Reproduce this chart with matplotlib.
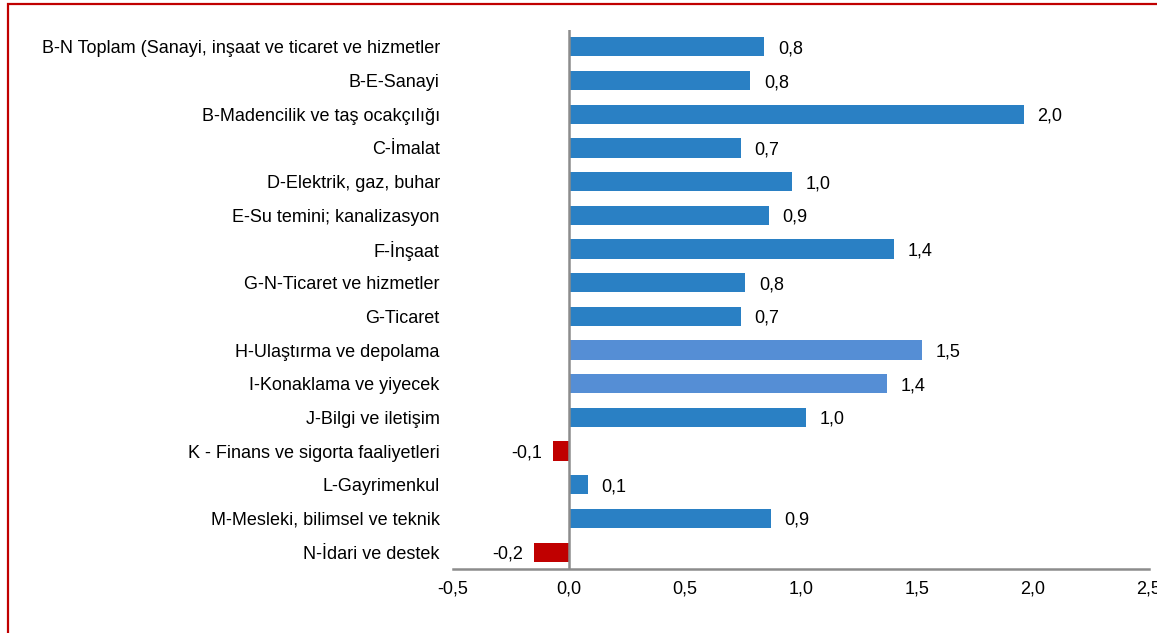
import matplotlib.pyplot as plt
from matplotlib.patches import Rectangle

plt.rcParams['font.family'] = ['Liberation Sans', 'DejaVu Sans']

sektorler = [
    "B-N Toplam (Sanayi, inşaat ve ticaret ve hizmetler",
    "B-E-Sanayi",
    "B-Madencilik ve taş ocakçılığı",
    "C-İmalat",
    "D-Elektrik, gaz, buhar",
    "E-Su temini; kanalizasyon",
    "F-İnşaat",
    "G-N-Ticaret ve hizmetler",
    "G-Ticaret",
    "H-Ulaştırma ve depolama",
    "I-Konaklama ve yiyecek",
    "J-Bilgi ve iletişim",
    "K - Finans ve sigorta faaliyetleri",
    "L-Gayrimenkul",
    "M-Mesleki, bilimsel ve teknik",
    "N-İdari ve destek",
]
degerler = [0.84, 0.78, 1.96, 0.74, 0.96, 0.86, 1.40, 0.76, 0.74,
            1.52, 1.37, 1.02, -0.07, 0.08, 0.87, -0.15]
etiketler = ["0,8", "0,8", "2,0", "0,7", "1,0", "0,9", "1,4", "0,8", "0,7",
             "1,5", "1,4", "1,0", "-0,1", "0,1", "0,9", "-0,2"]
acik = ["H-Ulaştırma ve depolama", "I-Konaklama ve yiyecek"]

W, H = 1157, 633
fs = 13
fig = plt.figure(figsize=(W / 100, H / 100), dpi=100)
ax = fig.add_axes([453 / W, 1 - 569 / H, (1149 - 453) / W, (569 - 30) / H])

renkler = []
for s, v in zip(sektorler, degerler):
    if v < 0:
        renkler.append('#C00000')
    elif s in acik:
        renkler.append('#558ED5')
    else:
        renkler.append('#2A80C4')

y = list(range(len(sektorler)))
ax.barh(y, degerler, height=0.57, color=renkler)
for i, (v, e) in enumerate(zip(degerler, etiketler)):
    if v >= 0:
        ax.annotate(e, (v, i), xytext=(10, 0), textcoords='offset points',
                    va='center_baseline', ha='left', fontsize=fs)
    else:
        ax.annotate(e, (v, i), xytext=(-8, 0), textcoords='offset points',
                    va='center_baseline', ha='right', fontsize=fs)

ax.set_xlim(-0.5, 2.5)
ax.set_ylim(len(sektorler) - 0.5, -0.5)
ax.set_yticks(y)
ax.set_yticklabels(sektorler, fontsize=fs)
ax.set_xticks([-0.5, 0, 0.5, 1.0, 1.5, 2.0, 2.5])
ax.set_xticklabels(["-0,5", "0,0", "0,5", "1,0", "1,5", "2,0", "2,5"], fontsize=fs)
ax.tick_params(axis='y', length=0, pad=9.5)
ax.tick_params(axis='x', length=0, pad=8)
for k in ['left', 'right', 'top']:
    ax.spines[k].set_visible(False)
ax.spines['bottom'].set_color('#8C8C8C')
ax.spines['bottom'].set_linewidth(1.8)
ax.axvline(0, color='#8C8C8C', lw=1.8, zorder=3)

# red frame around the picture
fig.patches.append(Rectangle((8 / W, -0.1), 1.2, 1 - 4 / H + 0.1,
                             transform=fig.transFigure, fill=False,
                             edgecolor='#C00000', lw=1.6))

fig.savefig('out.png', dpi=100)
